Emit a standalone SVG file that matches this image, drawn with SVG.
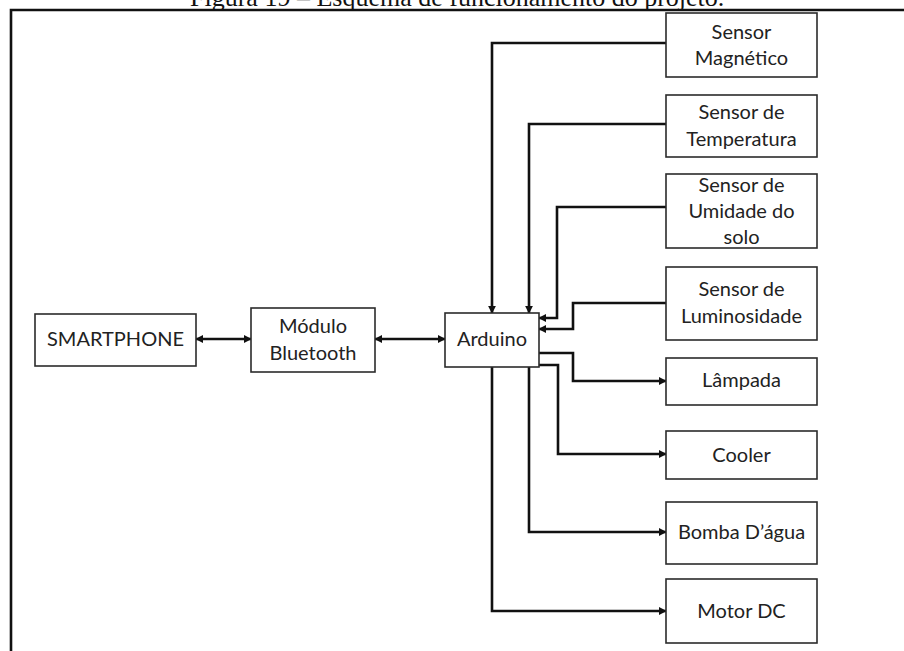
<svg xmlns="http://www.w3.org/2000/svg" width="904" height="651" viewBox="0 0 904 651">
<defs>
<style>
.box{fill:#fff;stroke:#2b2b2b;stroke-width:1.6}
.lbl{font-family:Lato,"Open Sans","Liberation Sans",sans-serif;font-size:20px;fill:#222;text-anchor:middle}
.ln{fill:none;stroke:#111;stroke-width:2.6}
.frame{fill:none;stroke:#111;stroke-width:2.6}
</style>
<marker id="ah" viewBox="0 0 10 10" refX="9" refY="5" markerWidth="3" markerHeight="3" orient="auto-start-reverse" markerUnits="strokeWidth">
<path d="M0,0 L10,5 L0,10 z" fill="#111"/>
</marker>
</defs>
<rect width="904" height="651" fill="#fff"/>
<text x="190" y="5.5" font-family="'Liberation Serif',serif" font-size="26" fill="#111">Figura 19 – Esquema de funcionamento do projeto.</text>
<path class="frame" d="M11,651 V10 H904"/>

<g id="connectors">
<path class="ln" d="M196,339 H251" marker-start="url(#ah)" marker-end="url(#ah)"/>
<path class="ln" d="M375,339 H445" marker-start="url(#ah)" marker-end="url(#ah)"/>
<path class="ln" d="M666,43 H492 V313" marker-end="url(#ah)"/>
<path class="ln" d="M666,124 H529 V313" marker-end="url(#ah)"/>
<path class="ln" d="M666,207 H557 V318 H539" marker-end="url(#ah)"/>
<path class="ln" d="M666,303 H573 V329 H539" marker-end="url(#ah)"/>
<path class="ln" d="M539,353 H573 V381 H666" marker-end="url(#ah)"/>
<path class="ln" d="M539,365 H558 V454 H666" marker-end="url(#ah)"/>
<path class="ln" d="M529,367 V532 H666" marker-end="url(#ah)"/>
<path class="ln" d="M492,367 V611 H666" marker-end="url(#ah)"/>
</g>

<g id="smartphone"><rect class="box" x="35" y="314" width="161" height="52"/><text class="lbl" x="115.5" y="346">SMARTPHONE</text></g>
<g id="bluetooth"><rect class="box" x="251" y="308" width="124" height="64"/><text class="lbl" x="313" y="333">Módulo</text><text class="lbl" x="313" y="360">Bluetooth</text></g>
<g id="arduino"><rect class="box" x="445" y="313" width="94" height="54"/><text class="lbl" x="492" y="346">Arduino</text></g>

<g id="magnetico"><rect class="box" x="666" y="13" width="151" height="64"/><text class="lbl" x="741.5" y="39">Sensor</text><text class="lbl" x="741.5" y="65">Magnético</text></g>
<g id="temperatura"><rect class="box" x="666" y="95" width="151" height="62"/><text class="lbl" x="741.5" y="119">Sensor de</text><text class="lbl" x="741.5" y="146">Temperatura</text></g>
<g id="umidade"><rect class="box" x="666" y="174" width="151" height="74"/><text class="lbl" x="741.5" y="192">Sensor de</text><text class="lbl" x="741.5" y="218">Umidade do</text><text class="lbl" x="741.5" y="244">solo</text></g>
<g id="luminosidade"><rect class="box" x="666" y="267" width="151" height="73"/><text class="lbl" x="741.5" y="296">Sensor de</text><text class="lbl" x="741.5" y="323">Luminosidade</text></g>
<g id="lampada"><rect class="box" x="666" y="358" width="151" height="47"/><text class="lbl" x="741.5" y="387">Lâmpada</text></g>
<g id="cooler"><rect class="box" x="666" y="431" width="151" height="48"/><text class="lbl" x="741.5" y="462">Cooler</text></g>
<g id="bomba"><rect class="box" x="666" y="502" width="151" height="62"/><text class="lbl" x="741.5" y="539">Bomba D’água</text></g>
<g id="motor"><rect class="box" x="666" y="579" width="151" height="64"/><text class="lbl" x="741.5" y="618">Motor DC</text></g>
</svg>
